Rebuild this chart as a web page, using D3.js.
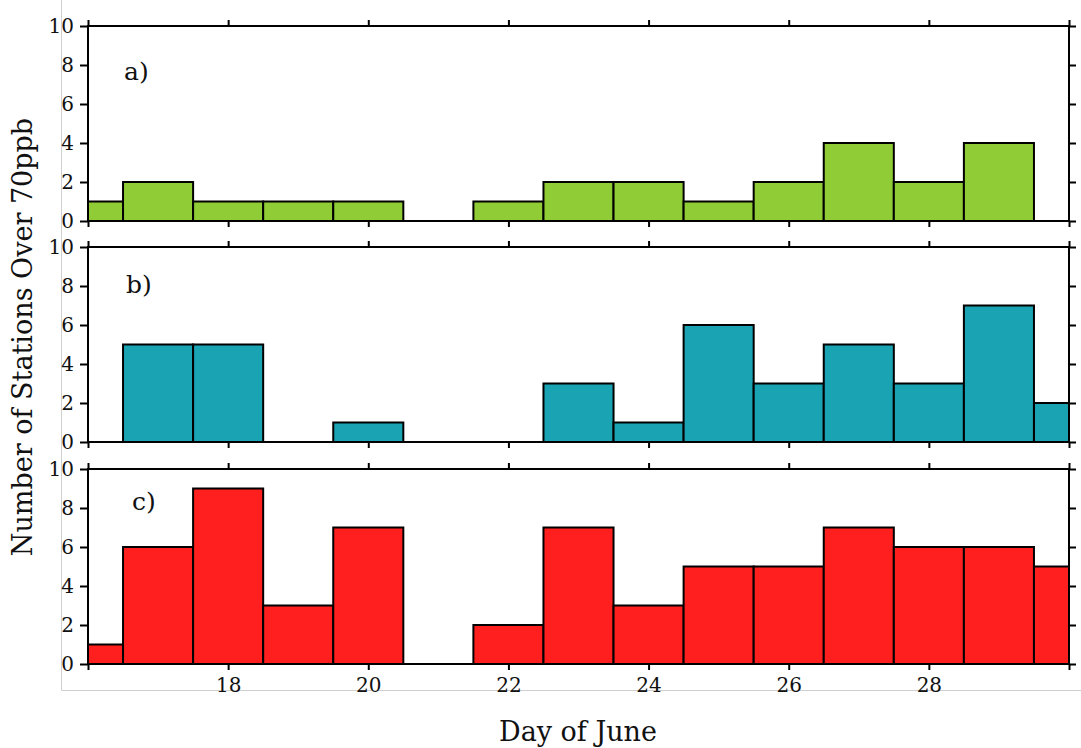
<!DOCTYPE html>
<html><head><meta charset="utf-8">
<script src="https://cdn.jsdelivr.net/npm/d3@7"></script>
<style>
body{margin:0;background:#fff;}
svg{display:block;font-family:"DejaVu Serif",serif;}
</style></head>
<body><svg id="c" width="1081" height="748"></svg>
<script>
// ---- data ----
const days = [16,17,18,19,20,21,22,23,24,25,26,27,28,29,30];
const seriesA = [1,2,1,1,1,0,1,2,2,1,2,4,2,4,0];
const seriesB = [0,5,5,0,1,0,0,3,1,6,3,5,3,7,2];
const seriesC = [1,6,9,3,7,0,2,7,3,5,5,7,6,6,5];
const panelLabels = ["a)","b)","c)"];
const xTickLabels = [18,20,22,24,26,28];
const yTicks = [0,2,4,6,8,10];
const yTitle = "Number of Stations Over 70ppb";
const xTitle = "Day of June";

// ---- layout ----
const colors = ["#8fcc35","#1aa3b2","#ff1f1f"];
const left = 88, right = 1069, panelH = 195;
const tops = [26, 247, 469];
const labelPos = [[124,80],[126,293],[132,510]];
const series = [seriesA, seriesB, seriesC];

const svg = d3.select("#c");
// faint frame
svg.append("path").attr("d","M61.5,0 V690.5 H1081").attr("fill","none").attr("stroke","#cfcfcf").attr("stroke-width",1);

const x = d3.scaleLinear().domain([16,30]).range([left,right]);
const xt = d3.range(16,31,2);

series.forEach((vals,i)=>{
  const top = tops[i];
  const y = d3.scaleLinear().domain([0,10]).range([top+panelH, top]);
  const g = svg.append("g");
  // bars
  g.selectAll("rect.bar").data(days.map((d,k)=>({d,v:vals[k]})).filter(o=>o.v>0))
    .enter().append("rect")
    .attr("x",o=>x(Math.max(16,o.d-0.5)))
    .attr("width",o=>x(Math.min(30,o.d+0.5))-x(Math.max(16,o.d-0.5)))
    .attr("y",o=>y(o.v))
    .attr("height",o=>y(0)-y(o.v))
    .attr("fill",colors[i]).attr("stroke","#000").attr("stroke-width",2);
  // frame
  g.append("rect").attr("x",left).attr("y",top).attr("width",right-left).attr("height",panelH)
    .attr("fill","none").attr("stroke","#000").attr("stroke-width",2);
  // y axes
  const ya = g.append("g").attr("transform",`translate(${left},0)`)
    .call(d3.axisLeft(y).tickValues(yTicks).tickSize(8).tickPadding(6).tickFormat(d3.format("d")));
  const yr = g.append("g").attr("transform",`translate(${right},0)`)
    .call(d3.axisRight(y).tickValues(yTicks).tickSize(7).tickFormat(""));
  // x axes
  const xtop = g.append("g").attr("transform",`translate(0,${top})`)
    .call(d3.axisTop(x).tickValues(xt).tickSize(6).tickFormat(""));
  const xb = g.append("g").attr("transform",`translate(0,${top+panelH})`)
    .call(d3.axisBottom(x).tickValues(xt).tickSize(6).tickPadding(8)
      .tickFormat(d=> (i===2 && xTickLabels.includes(d)) ? String(d) : ""));
  [ya,yr,xtop,xb].forEach(a=>{
    a.select(".domain").remove();
    a.selectAll(".tick line").attr("stroke","#000").attr("stroke-width",2);
    a.selectAll("text").attr("font-family","DejaVu Serif").attr("font-size",20).attr("fill","#111");
  });
  g.append("text").attr("x",labelPos[i][0]).attr("y",labelPos[i][1])
    .attr("font-size",25).attr("fill","#111").text(panelLabels[i]);
});

svg.append("text").attr("transform","translate(32,337) rotate(-90)")
  .attr("text-anchor","middle").attr("font-size",27).attr("fill","#111").text(yTitle);
svg.append("text").attr("x",578).attr("y",741)
  .attr("text-anchor","middle").attr("font-size",27).attr("fill","#111").text(xTitle);
</script></body></html>
